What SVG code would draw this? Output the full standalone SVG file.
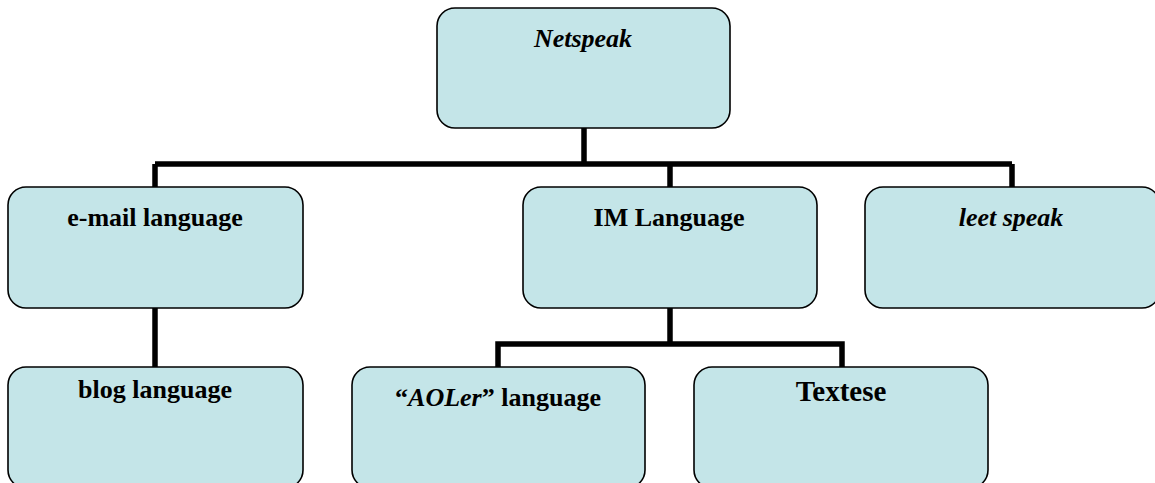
<svg xmlns="http://www.w3.org/2000/svg" width="1155" height="483" viewBox="0 0 1155 483">
<style>
.box{fill:#c4e5e8;stroke:#000;stroke-width:1.6}
.lbl{font-family:"Liberation Serif","Times New Roman",serif;font-weight:bold;fill:#000;text-anchor:middle;font-size:26px}
.it{font-style:italic}
.con{fill:none;stroke:#000;stroke-width:5.5;stroke-linejoin:miter;stroke-linecap:butt}
</style>
<rect width="1155" height="483" fill="#fff"/>
<g id="connectors">
<path class="con" d="M584 128V164M155 164H1012M155 164V187M670 164V187M1012 164V187"/>
<path class="con" d="M155 308V367"/>
<path class="con" d="M670 308V344M498 367V344H842V367"/>
</g>
<g id="netspeak">
<rect class="box" x="437" y="8" width="293" height="120" rx="18"/>
<text class="lbl it" x="583" y="47">Netspeak</text>
</g>
<g id="email">
<rect class="box" x="8" y="187" width="295" height="121" rx="18"/>
<text class="lbl" x="155" y="226">e-mail language</text>
</g>
<g id="im">
<rect class="box" x="523" y="187" width="294" height="121" rx="18"/>
<text class="lbl" x="669" y="226">IM Language</text>
</g>
<g id="leet">
<rect class="box" x="865" y="187" width="295" height="121" rx="18"/>
<text class="lbl it" x="1011" y="226">leet speak</text>
</g>
<g id="blog">
<rect class="box" x="8" y="367" width="295" height="121" rx="18"/>
<text class="lbl" x="155" y="398">blog language</text>
</g>
<g id="aoler">
<rect class="box" x="352" y="367" width="293" height="121" rx="18"/>
<text class="lbl" x="498" y="406">“<tspan class="it">AOLer</tspan>” language</text>
</g>
<g id="textese">
<rect class="box" x="694" y="367" width="294" height="121" rx="18"/>
<text class="lbl" x="841" y="401" style="font-size:29px">Textese</text>
</g>
</svg>
